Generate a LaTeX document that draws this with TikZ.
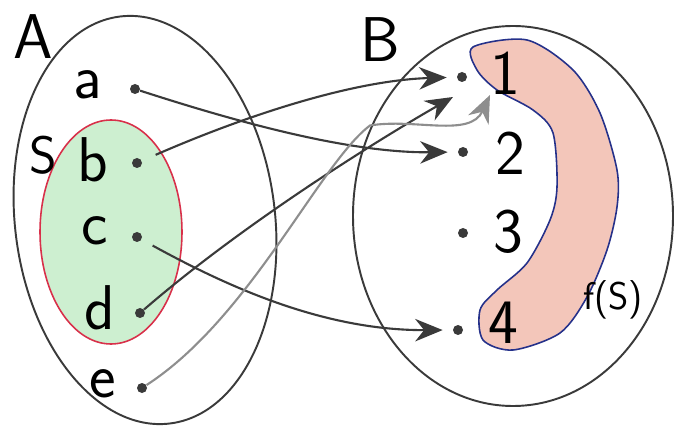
\documentclass[tikz,border=0pt]{standalone}
\usetikzlibrary{arrows.meta}
\definecolor{pencil}{HTML}{3A3A3A}
\definecolor{lpencil}{HTML}{8E8E8E}
\definecolor{sgreen}{HTML}{CDEFD0}
\definecolor{Sred}{HTML}{D8304A}
\definecolor{spink}{HTML}{F3C6BA}
\definecolor{fblue}{HTML}{25318A}

\begin{document}
\begin{tikzpicture}[font=\sffamily\fontsize{36}{38}\selectfont,
  dot/.style={circle,fill=pencil,inner sep=0pt,minimum size=0.2cm},
  map/.style={pencil,line width=1.2pt,-{Stealth[length=0.55cm,width=0.45cm]},shorten >=0.2cm}]
  \useasboundingbox (0,0) rectangle (13.6,8.66);
  % the sets
  \fill[sgreen] (2.22,4.02) ellipse (1.42 and 2.24);
  \draw[Sred,line width=0.9pt] (2.22,4.02) ellipse (1.42 and 2.24);
  \draw[pencil,line width=1.1pt,rotate around={7:(2.9,4.26)}] (2.9,4.26) ellipse (2.6 and 4.1);
  \draw[pencil,line width=1.1pt] (10.26,4.34) ellipse (3.2 and 3.8);
  \draw[fblue,fill=spink,line width=0.9pt] plot[smooth cycle] coordinates {
    (9.46,7.72) (10.54,7.86) (11.46,7.26) (12.0,6.40) (12.34,5.26) (12.34,4.52)
    (12.14,3.66) (11.74,2.72) (11.20,2.00) (10.26,1.66) (9.66,1.86) (9.60,2.46)
    (9.94,2.86) (10.54,3.40) (11.00,4.26) (11.14,4.92) (11.06,6.00) (10.66,6.46)
    (9.94,6.86) (9.54,7.26)};
  \node (lA) at (0.66,7.92) {A};
  \node (lB) at (7.6,7.86) {B};
  \node[font=\sffamily\fontsize{30}{32}\selectfont] (lS) at (0.86,5.56) {S};
  \node[font=\sffamily\fontsize{22}{24}\selectfont] (lfS) at (12.26,2.66) {f(S)};
  % elements of A
  \node[dot] (pa) at (2.70,6.88) {};
  \node[dot] (pb) at (2.74,5.40) {};
  \node[dot] (pc) at (2.74,3.92) {};
  \node[dot] (pd) at (2.80,2.40) {};
  \node[dot] (pe) at (2.84,0.90) {};
  \node (la) at (1.76,6.96) {a};
  \node (lb) at (1.86,5.46) {b};
  \node (lc) at (1.90,4.04) {c};
  \node (ld) at (2.00,2.50) {d};
  \node (le) at (2.06,0.98) {e};
  % elements of B
  \node[dot] (p1) at (9.24,7.12) {};
  \node[dot] (p2) at (9.26,5.62) {};
  \node[dot] (p3) at (9.26,4.00) {};
  \node[dot] (p4) at (9.16,2.06) {};
  \node (l1) at (10.10,7.20) {1};
  \node (l2) at (10.20,5.60) {2};
  \node (l3) at (10.16,4.02) {3};
  \node (l4) at (10.06,2.20) {4};
  % the map f
  \coordinate (t1d) at (9.06,6.72);
  \coordinate (t1e) at (9.8,6.76);
  \draw[map] (pa) .. controls (4.8,6.2) and (7.0,5.6) .. (p2);
  \draw[map,shorten <=0.3cm] (pb) .. controls (4.8,6.3) and (7.0,7.05) .. (p1);
  \draw[map,shorten <=0.25cm] (pc) .. controls (4.6,2.9) and (6.5,2.05) .. (p4);
  \draw[map,shorten >=0pt] (pd) .. controls (5.0,4.3) and (7.8,6.0) .. (t1d);
  \draw[map,lpencil,shorten >=0pt] (pe) .. controls (5.0,2.3) and (6.4,5.4) .. (7.4,6.15)
    .. controls (8.3,6.3) and (9.4,5.9) .. (t1e);
\end{tikzpicture}
\end{document}
